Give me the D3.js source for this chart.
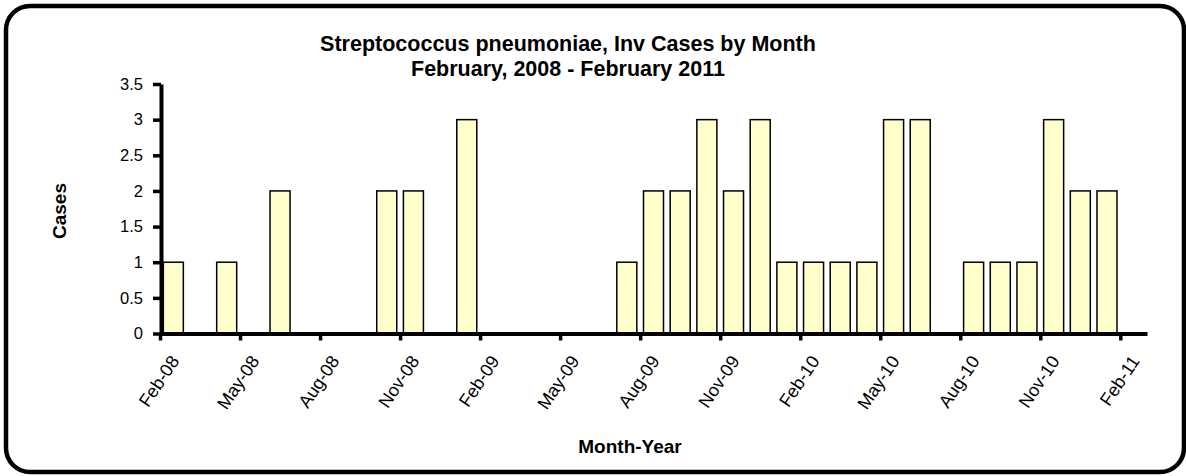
<!DOCTYPE html>
<html>
<head>
<meta charset="utf-8">
<script src="https://cdn.jsdelivr.net/npm/d3@7"></script>
<style>
  body { margin: 0; background: #fff; }
  svg { display: block; font-family: Arial, "Liberation Sans", sans-serif; }
</style>
</head>
<body>
<svg id="chart" width="1186" height="476"></svg>
<script>
// monthly counts, Feb-08 .. Feb-11
var months = ["Feb-08","Mar-08","Apr-08","May-08","Jun-08","Jul-08","Aug-08","Sep-08","Oct-08","Nov-08","Dec-08","Jan-09",
  "Feb-09","Mar-09","Apr-09","May-09","Jun-09","Jul-09","Aug-09","Sep-09","Oct-09","Nov-09","Dec-09","Jan-10",
  "Feb-10","Mar-10","Apr-10","May-10","Jun-10","Jul-10","Aug-10","Sep-10","Oct-10","Nov-10","Dec-10","Jan-11","Feb-11"];
var cases = [1,0,1,0,2,0,0,0,2,2,0,3,
  0,0,0,0,0,1,2,2,3,2,3,1,
  1,1,1,3,3,0,1,1,1,3,2,2,0];
var yTicks = [0, 0.5, 1, 1.5, 2, 2.5, 3, 3.5];
var titleLines = ["Streptococcus pneumoniae, Inv Cases by Month", "February, 2008 - February 2011"];

var svg = d3.select("#chart");

// rounded frame
svg.append("rect")
  .attr("x", 6).attr("y", 6)
  .attr("width", 1178).attr("height", 466)
  .attr("rx", 24).attr("ry", 24)
  .attr("fill", "#fff")
  .attr("stroke", "#000")
  .attr("stroke-width", 4.5);

// plot box (named so they don't clash with window.top etc)
var plotL = 160, plotR = 1147, plotT = 84, plotB = 333.5;

var x = d3.scaleBand().domain(months).range([plotL, plotR]).paddingInner(0.25).paddingOuter(0.125);
// index scale for ticks at category starts
var xi = d3.scaleLinear().domain([0, months.length]).range([plotL, plotR]);
var y = d3.scaleLinear().domain([0, 3.5]).range([plotB, plotT]);

var spots = months.map((m, i) => ({month: m, n: cases[i]})).filter(d => d.n > 0);

// bars
svg.append("g").selectAll("rect")
  .data(spots)
  .join("rect")
  .attr("x", d => x(d.month))
  .attr("width", x.bandwidth())
  .attr("y", d => y(d.n))
  .attr("height", d => plotB - y(d.n))
  .attr("fill", "#FFFFCC")
  .attr("stroke", "#000")
  .attr("stroke-width", 1.5);

// y axis
var yAxis = d3.axisLeft(y).tickValues(yTicks).tickSize(8).tickPadding(10).tickSizeOuter(0)
  .tickFormat(d3.format("~g"));
var yG = svg.append("g").attr("transform", "translate(" + (plotL + 1) + ",0)").call(yAxis);
yG.select(".domain").attr("stroke-width", 4);
yG.selectAll(".tick line").attr("stroke-width", 3.5);
yG.selectAll(".tick text").attr("font-size", 16.5).attr("font-family", "Arial, 'Liberation Sans', sans-serif").attr("fill", "#000");

// x axis
var tickIdx = d3.range(0, months.length, 3);
var xAxis = d3.axisBottom(xi).tickValues(tickIdx).tickSize(7).tickSizeOuter(0)
  .tickFormat(i => months[i]);
var xG = svg.append("g").attr("transform", "translate(0," + plotB + ")").call(xAxis);
xG.select(".domain").attr("stroke-width", 4);
xG.selectAll(".tick line").attr("stroke-width", 3.5);
var bw = xi(1) - xi(0);
xG.selectAll(".tick text")
  .attr("font-size", 18)
  .attr("font-family", "Arial, 'Liberation Sans', sans-serif")
  .attr("fill", "#000")
  .attr("text-anchor", "end")
  .attr("x", 0).attr("y", 0).attr("dy", "0.35em")
  .attr("transform", "translate(" + (bw / 2 + 1) + ",24) rotate(-56)");

// titles
svg.append("g").selectAll("text")
  .data(titleLines)
  .join("text")
  .attr("x", 568)
  .attr("y", (d, i) => 51 + i * 25)
  .attr("text-anchor", "middle")
  .attr("font-weight", "bold")
  .attr("font-size", 21.5)
  .text(d => d);

svg.append("text")
  .attr("transform", "translate(66,211) rotate(-90)")
  .attr("text-anchor", "middle")
  .attr("font-weight", "bold")
  .attr("font-size", 19)
  .text("Cases");

svg.append("text")
  .attr("x", 630).attr("y", 453)
  .attr("text-anchor", "middle")
  .attr("font-weight", "bold")
  .attr("font-size", 19)
  .text("Month-Year");
</script>
</body>
</html>
